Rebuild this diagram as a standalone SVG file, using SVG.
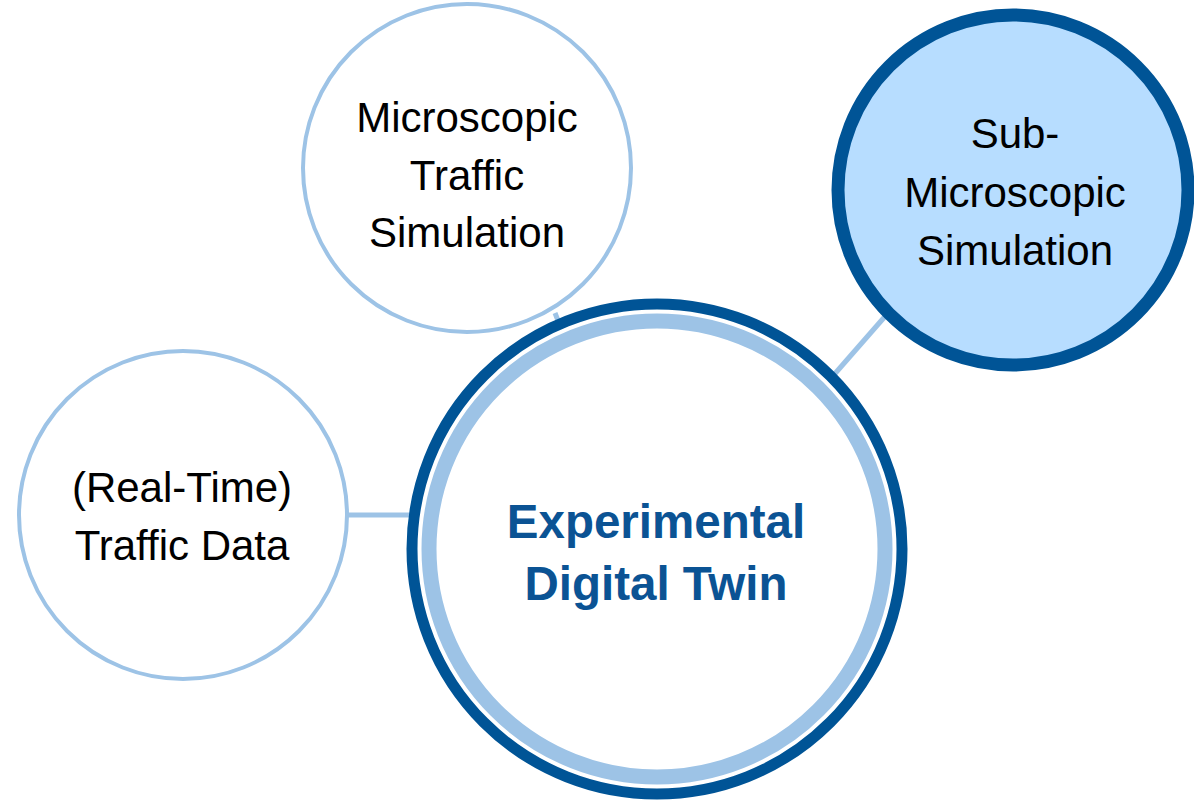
<svg xmlns="http://www.w3.org/2000/svg" width="1194" height="801" viewBox="0 0 1194 801">
<style>
.t{font-family:"Liberation Sans",Arial,sans-serif;font-size:42px;fill:#000;text-anchor:middle}
.b{font-family:"Liberation Sans",Arial,sans-serif;font-size:47.5px;font-weight:bold;fill:#0B5394;text-anchor:middle}
.lc{fill:#fff;stroke:#9DC3E6;stroke-width:4}
.cn{stroke:#9DC3E6;stroke-width:5;fill:none}
</style>
<rect width="1194" height="801" fill="#fff"/>
<g id="connectors">
<line class="cn" x1="555" y1="313" x2="559" y2="323"/>
<line class="cn" x1="832" y1="377" x2="888" y2="313"/>
<line class="cn" x1="347" y1="515" x2="412" y2="515"/>
</g>
<g id="micro">
<circle class="lc" cx="467" cy="168" r="164"/>
<text class="t" x="467" y="132">Microscopic</text>
<text class="t" x="467" y="190">Traffic</text>
<text class="t" x="467" y="247">Simulation</text>
</g>
<g id="data">
<circle class="lc" cx="183" cy="515" r="164"/>
<text class="t" x="182" y="502">(Real-Time)</text>
<text class="t" x="182" y="560">Traffic Data</text>
</g>
<g id="submicro">
<circle cx="1013" cy="190" r="175" fill="#B7DDFF" stroke="#005496" stroke-width="13"/>
<text class="t" x="1015" y="148">Sub-</text>
<text class="t" x="1015" y="207">Microscopic</text>
<text class="t" x="1015" y="265">Simulation</text>
</g>
<g id="twin">
<circle cx="657" cy="549" r="245" fill="#fff" stroke="#005496" stroke-width="11"/>
<circle cx="657" cy="549" r="228" fill="none" stroke="#9DC3E6" stroke-width="15"/>
<text class="b" x="656" y="538">Experimental</text>
<text class="b" x="656" y="600">Digital Twin</text>
</g>
</svg>
